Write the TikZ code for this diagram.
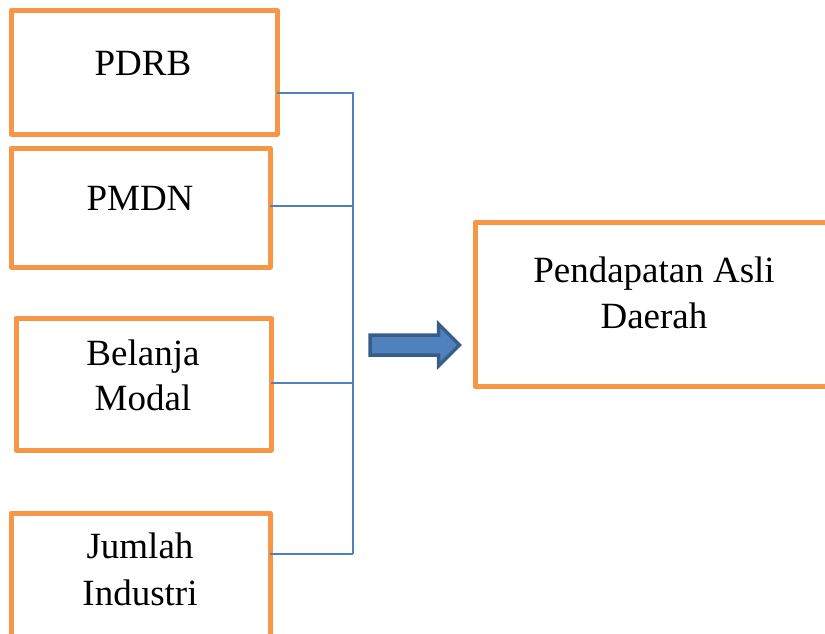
\documentclass[tikz,border=0pt]{standalone}
\usepackage{fontspec}
\setmainfont{Liberation Serif}
\definecolor{boxorange}{HTML}{F79646}
\definecolor{lineblue}{HTML}{4F81BD}
\definecolor{arrowdark}{HTML}{385D8A}
\begin{document}
\begin{tikzpicture}[x=1pt,y=-1pt,
  box/.style={draw=boxorange,line width=5pt,line join=round,rectangle,anchor=north west,inner sep=0pt,outer sep=0pt},
  lbl/.style={anchor=base,inner sep=0pt,font=\fontsize{37}{45}\selectfont},
  conn/.style={draw=lineblue,line width=1.6pt}]
\useasboundingbox (0,0) rectangle (825,633);
\clip (0,0) rectangle (825,633);
\fill[white] (0,0) rectangle (825,633);
% boxes
\node[box,minimum width=266pt,minimum height=124pt] (pdrb) at (11,10) {};
\node[box,minimum width=259pt,minimum height=119pt] (pmdn) at (11,148) {};
\node[box,minimum width=255pt,minimum height=132pt] (belanja) at (16,318) {};
\node[box,minimum width=259pt,minimum height=140pt] (jumlah) at (11,513) {};
\node[box,minimum width=370pt,minimum height=164pt] (pad) at (475,222) {};
% labels
\node[lbl] (t1) at (143,75) {PDRB};
\node[lbl] (t2) at (140,210) {PMDN};
\node[lbl] (t3a) at (143,365) {Belanja};
\node[lbl] (t3b) at (143,410) {Modal};
\node[lbl] (t4a) at (140,558) {Jumlah};
\node[lbl] (t4b) at (140,605) {Industri};
\node[lbl] (t5a) at (654,282) {Pendapatan Asli};
\node[lbl] (t5b) at (654,328) {Daerah};
% bus
\coordinate (b1) at (353,93);
\coordinate (b2) at (353,206);
\coordinate (b3) at (353,383);
\coordinate (b4) at (353,554);
\draw[conn] (pdrb.east |- b1) -- (b1) -- (b4);
\draw[conn] (pmdn.east |- b2) -- (b2);
\draw[conn] (belanja.east |- b3) -- (b3);
\draw[conn] (jumlah.east |- b4) -- (b4);
% block arrow
\draw[fill=lineblue,draw=arrowdark,line width=3.5pt,line join=miter]
  (370,335) -- (438.5,335) -- (438.5,324) -- (459.5,345) -- (438.5,366) -- (438.5,355) -- (370,355) -- cycle;
\end{tikzpicture}
\end{document}
